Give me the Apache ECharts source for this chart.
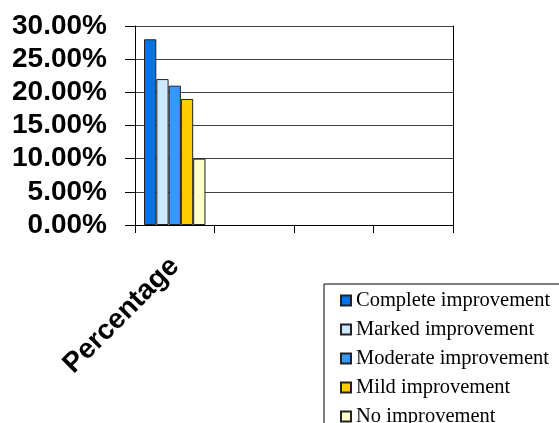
<!DOCTYPE html>
<html>
<head>
<meta charset="utf-8">
<style>
  html, body { margin: 0; padding: 0; background: #ffffff; }
  #chart { width: 559px; height: 423px; }
</style>
<script src="https://cdn.jsdelivr.net/npm/echarts@6/dist/echarts.min.js"></script>
</head>
<body>
<div id="chart"></div>
<script>
// Category axis: one labelled group followed by three empty slots
const categories = ['Percentage', '', '', ''];

// Outcome groups and their shares
const seriesNames = [
  'Complete improvement',
  'Marked improvement',
  'Moderate improvement',
  'Mild improvement',
  'No improvement'
];
const shares = [0.28, 0.22, 0.21, 0.19, 0.10];

const colors = ['#0073E6', '#CCE8FF', '#3399FF', '#FFCC00', '#FFFFCC'];

// Y axis range and step
const yMin = 0;
const yMax = 0.30;
const yStep = 0.05;

const chart = echarts.init(document.getElementById('chart'), null, { renderer: 'canvas' });

const series = seriesNames.map((name, i) => ({
  name: name,
  type: 'bar',
  data: categories.map((c, j) => (j === 0 ? shares[i] : null)),
  barGap: '0%',
  barCategoryGap: '22.7%',
  itemStyle: {
    color: colors[i],
    borderColor: '#222222',
    borderWidth: 1
  },
  emphasis: { disabled: true }
}));

chart.setOption({
  animation: false,
  backgroundColor: '#ffffff',
  grid: { left: 135, right: 106, top: 26, bottom: 198, containLabel: false },
  legend: {
    orient: 'vertical',
    left: 324,
    top: 284,
    height: 160,
    padding: [6, 10, 6, 16],
    itemGap: 8,
    itemWidth: 10,
    itemHeight: 10,
    icon: 'rect',
    borderColor: '#000000',
    borderWidth: 1,
    textStyle: {
      fontFamily: '"Liberation Serif", "Times New Roman", serif',
      fontSize: 20.5,
      lineHeight: 20,
      color: '#000000'
    },
    data: seriesNames
  },
  xAxis: {
    type: 'category',
    data: categories,
    boundaryGap: true,
    axisLine: { show: true, lineStyle: { color: '#000000', width: 1 } },
    axisTick: { show: true, length: 8, alignWithLabel: false, lineStyle: { color: '#000000' } },
    axisLabel: {
      interval: 0,
      rotate: 45,
      margin: 37,
      color: '#000000',
      fontFamily: '"Liberation Sans", Arial, sans-serif',
      fontWeight: 'bold',
      fontSize: 28
    },
    splitLine: { show: false }
  },
  yAxis: [
    {
      type: 'value',
      min: yMin,
      max: yMax,
      interval: yStep,
      axisLine: { show: true, lineStyle: { color: '#000000', width: 1 } },
      axisTick: { show: true, length: 10, lineStyle: { color: '#000000' } },
      axisLabel: {
        margin: 28,
        color: '#000000',
        fontFamily: '"Liberation Sans", Arial, sans-serif',
        fontWeight: 'bold',
        fontSize: 28,
        formatter: v => (v * 100).toFixed(2) + '%'
      },
      splitLine: { show: true, lineStyle: { color: '#404040', width: 1 } }
    },
    {
      type: 'value',
      position: 'right',
      min: yMin,
      max: yMax,
      interval: yStep,
      axisLine: { show: true, lineStyle: { color: '#000000', width: 1 } },
      axisTick: { show: false },
      axisLabel: { show: false },
      splitLine: { show: false }
    }
  ],
  series: series
});
</script>
</body>
</html>
